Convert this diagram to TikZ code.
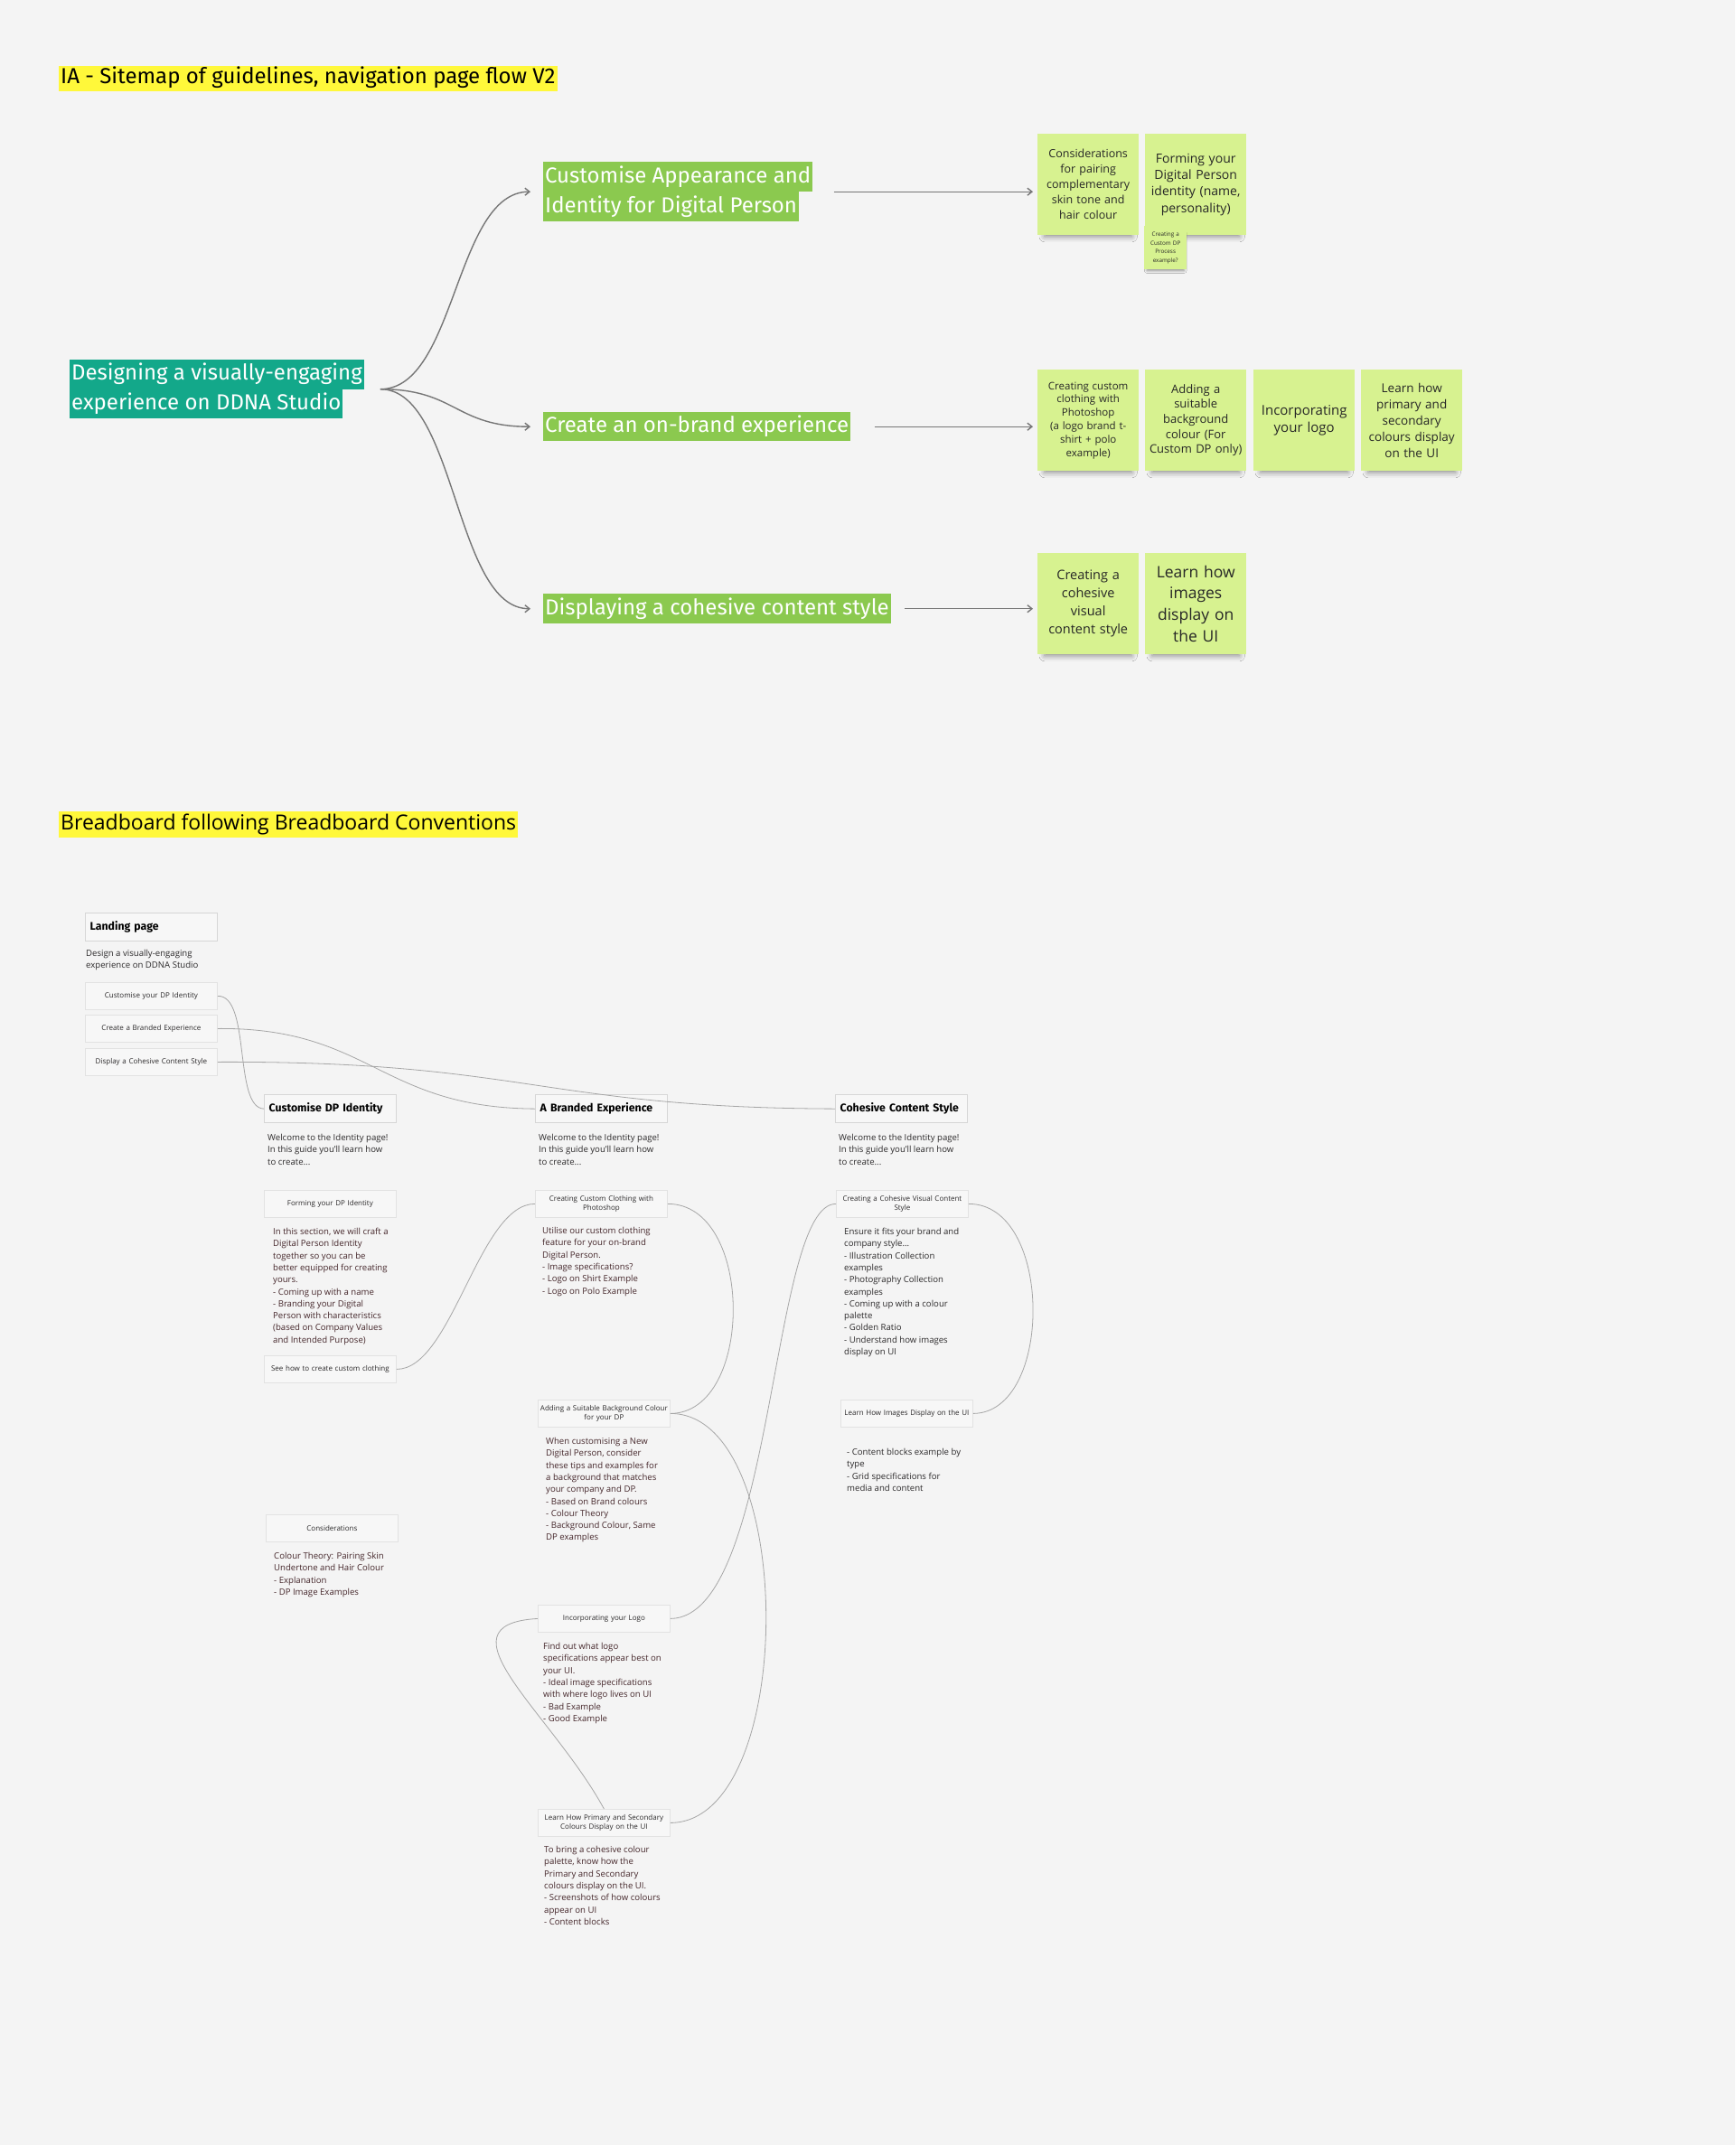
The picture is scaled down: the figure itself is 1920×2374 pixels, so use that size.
\documentclass[tikz,border=0pt]{standalone}
\usepackage{fontspec}
\setmainfont{Open Sans}
\newfontfamily\plexlike{Fira Sans}
\usetikzlibrary{arrows.meta,shadows.blur}

\definecolor{bgpaper}{HTML}{F4F4F4}
\definecolor{hiyellow}{HTML}{FFF83A}
\definecolor{rootteal}{HTML}{13A88A}
\definecolor{branchgreen}{HTML}{8BC94F}
\definecolor{stickygreen}{HTML}{D7F290}
\definecolor{wiregray}{HTML}{767676}
\definecolor{bbline}{HTML}{D6D6D6}
\definecolor{bbfill}{HTML}{F7F7F7}
\definecolor{bbink}{HTML}{2C2A2B}
\definecolor{paraink}{HTML}{45272B}

% highlighted line of text (Miro style marker)
\newcommand\hlline[2]{{\setlength\fboxsep{0pt}\colorbox{#1}{\strut\hspace{2pt}#2\hspace{2pt}}}}

\tikzset{
	wire/.style={draw=wiregray, line width=1.4pt, -{Straight Barb[length=5pt,width=8pt]}},
	hilite/.style={anchor=north west, align=left, inner sep=0pt},
	stickybase/.style={fill=stickygreen, anchor=north west, align=center, inner sep=0pt, text=black!85},
	sticky/.style={stickybase, minimum width=112pt, minimum height=112pt, text width=106pt,
			blur shadow={shadow xshift=0pt, shadow yshift=-11pt, shadow scale=0.86, shadow opacity=45, shadow blur radius=7pt}},
	stickysmall/.style={stickybase, minimum width=47pt, minimum height=48pt, text width=44pt,
			blur shadow={shadow xshift=0pt, shadow yshift=-5pt, shadow scale=0.88, shadow opacity=40, shadow blur radius=3pt}},
	bbhead/.style={draw=bbline, line width=1.3pt, fill=bbfill, anchor=north west, minimum width=146pt,
			minimum height=31pt, inner xsep=5pt, text width=136pt, text=black,
			font=\plexlike\bfseries\fontsize{12.3}{15}\selectfont},
	bbbtn/.style={draw=bbline!70, line width=0.8pt, fill=bbfill, anchor=north west, minimum width=146pt,
			minimum height=30pt, text width=142pt, align=center, inner sep=2pt, text=bbink,
			font=\fontsize{8}{10.5}\selectfont},
	bbtext/.style={anchor=north west, align=left, inner sep=0pt, text=bbink,
			font=\fontsize{9.6}{13.3}\selectfont},
	bbpara/.style={bbtext, text=paraink},
	bbwire/.style={draw=gray!70, line width=0.8pt}
}

\begin{document}
\begin{tikzpicture}[x=1pt, y=-1pt]
	\useasboundingbox (0,0) rectangle (1920,2374);
	\fill[bgpaper] (0,0) rectangle (1920,2374);

	% sitemap
	\node[hilite, font=\plexlike\fontsize{24}{28}\selectfont] (ttlmap) at (65,73)
		{\hlline{hiyellow}{IA - Sitemap of guidelines, navigation page flow V2}};
	\node[hilite, text=white, font=\plexlike\fontsize{24}{32.5}\selectfont] (root) at (77,398)
		{\hlline{rootteal}{Designing a visually-engaging}\\\hlline{rootteal}{experience on DDNA Studio}};
	\node[hilite, text=white, font=\plexlike\fontsize{24}{33}\selectfont] (cust) at (601,179)
		{\hlline{branchgreen}{Customise Appearance and}\\\hlline{branchgreen}{Identity for Digital Person}};
	\node[hilite, text=white, font=\plexlike\fontsize{24}{32}\selectfont] (brand) at (601,456)
		{\hlline{branchgreen}{Create an on-brand experience}};
	\node[hilite, text=white, font=\plexlike\fontsize{24}{33}\selectfont] (cohes) at (601,657)
		{\hlline{branchgreen}{Displaying a cohesive content style}};

	\node[sticky, font=\fontsize{12.5}{17}\selectfont] (stConsider) at (1148,148)
		{Considerations\\for pairing\\complementary\\skin tone and\\hair colour};
	\node[sticky, font=\fontsize{14}{18.3}\selectfont] (stForming) at (1267,148)
		{Forming your\\Digital Person\\identity (name,\\personality)\\[14pt]};
	\node[stickysmall, font=\fontsize{6.3}{9.5}\selectfont] (stProcess) at (1266,250)
		{Creating a\\Custom DP\\Process\\example?};
	\node[sticky, font=\fontsize{11.5}{14.8}\selectfont] (stClothing) at (1148,409)
		{Creating custom\\clothing with\\Photoshop\\(a logo brand t-\\shirt + polo\\example)};
	\node[sticky, font=\fontsize{13}{16.6}\selectfont] (stBackground) at (1267,409)
		{Adding a\\suitable\\background\\colour (For\\Custom DP only)};
	\node[sticky, font=\fontsize{15}{19.7}\selectfont] (stLogo) at (1387,409)
		{Incorporating\\your logo\\[8pt]};
	\node[sticky, font=\fontsize{13.5}{18}\selectfont] (stPalette) at (1506,409)
		{Learn how\\primary and\\secondary\\colours display\\on the UI};
	\node[sticky, font=\fontsize{14.5}{20}\selectfont] (stVisual) at (1148,612)
		{Creating a\\cohesive\\visual\\content style};
	\node[sticky, font=\fontsize{17.5}{23.6}\selectfont] (stImages) at (1267,612)
		{Learn how\\images\\display on\\the UI};

	\draw[wire] ([xshift=18pt]root.east) .. controls +(84,0) and +(-84,0) .. ([xshift=-14pt]cust.west);
	\draw[wire] ([xshift=18pt]root.east) .. controls +(84,0) and +(-84,0) .. ([xshift=-14pt]brand.west);
	\draw[wire] ([xshift=18pt]root.east) .. controls +(84,0) and +(-84,0) .. ([xshift=-14pt]cohes.west);
	\draw[wire] ([xshift=23pt]cust.east) -- ([xshift=-5pt]cust.east -| stConsider.west);
	\draw[wire] ([xshift=26pt]brand.east) -- ([xshift=-5pt]brand.east -| stClothing.west);
	\draw[wire] ([xshift=15pt]cohes.east) -- ([xshift=-5pt]cohes.east -| stVisual.west);

	% breadboard
	\node[hilite, font=\fontsize{23}{29}\selectfont] (ttlboard) at (65,898)
		{\hlline{hiyellow}{Breadboard following Breadboard Conventions}};

	\node[bbhead] (landing) at (94,1010) {Landing page};
	\node[bbtext] (landtxt) at (95,1051) {Design a visually-engaging\\experience on DDNA Studio};
	\node[bbbtn] (btnIdentity) at (94,1087) {Customise your DP Identity};
	\node[bbbtn] (btnBranded) at (94,1123) {Create a Branded Experience};
	\node[bbbtn] (btnCohesive) at (94,1160) {Display a Cohesive Content Style};

	\node[bbhead] (hdIdentity) at (292,1211) {Customise DP Identity};
	\node[bbhead] (hdBranded) at (592,1211) {A Branded Experience};
	\node[bbhead] (hdCohesive) at (924,1211) {Cohesive Content Style};
	\foreach \x/\n in {296/1,596/2,928/3}
		\node[bbtext] (welcome\n) at (\x,1255) {Welcome to the Identity page!\\In this guide you'll learn how\\to create...};

	\node[bbbtn] (bxForming) at (292,1317) {Forming your DP Identity};
	\node[bbpara] (txForming) at (302,1359) {In this section, we will craft a\\Digital Person Identity\\together so you can be\\better equipped for creating\\yours.\\- Coming up with a name\\- Branding your Digital\\Person with characteristics\\(based on Company Values\\and Intended Purpose)};
	\node[bbbtn] (bxSeeHow) at (292,1500) {See how to create custom clothing};
	\node[bbbtn] (bxConsider) at (294,1676) {Considerations};
	\node[bbpara] (txConsider) at (303,1718) {Colour Theory: Pairing Skin\\Undertone and Hair Colour\\- Explanation\\- DP Image Examples};

	\node[bbbtn] (bxClothing) at (592,1317) {Creating Custom Clothing with\\Photoshop};
	\node[bbpara] (txClothing) at (600,1358) {Utilise our custom clothing\\feature for your on-brand\\Digital Person.\\- Image specifications?\\- Logo on Shirt Example\\- Logo on Polo Example};
	\node[bbbtn] (bxBackground) at (595,1549) {Adding a Suitable Background Colour\\for your DP};
	\node[bbpara] (txBackground) at (604,1591) {When customising a New\\Digital Person, consider\\these tips and examples for\\a background that matches\\your company and DP.\\- Based on Brand colours\\- Colour Theory\\- Background Colour, Same\\DP examples};
	\node[bbbtn] (bxLogo) at (595,1776) {Incorporating your Logo};
	\node[bbpara] (txLogo) at (601,1818) {Find out what logo\\specifications appear best on\\your UI.\\- Ideal image specifications\\with where logo lives on UI\\- Bad Example\\- Good Example};
	\node[bbbtn] (bxPalette) at (595,2002) {Learn How Primary and Secondary\\Colours Display on the UI};
	\node[bbpara] (txPalette) at (602,2043) {To bring a cohesive colour\\palette, know how the\\Primary and Secondary\\colours display on the UI.\\- Screenshots of how colours\\appear on UI\\- Content blocks};

	\node[bbbtn] (bxVisual) at (925,1317) {Creating a Cohesive Visual Content\\Style};
	\node[bbtext] (txVisual) at (934,1359) {Ensure it fits your brand and\\company style...\\- Illustration Collection\\examples\\- Photography Collection\\examples\\- Coming up with a colour\\palette\\- Golden Ratio\\- Understand how images\\display on UI};
	\node[bbbtn] (bxImages) at (930,1549) {Learn How Images Display on the UI};
	\node[bbtext] (txImages) at (937,1603) {- Content blocks example by\\type\\- Grid specifications for\\media and content};

	\draw[bbwire] (btnIdentity.east) .. controls (278,1101) and (258,1226) .. (hdIdentity.west);
	\draw[bbwire] (btnBranded.east) .. controls (410,1137) and (420,1226) .. (hdBranded.west);
	\draw[bbwire] (btnCohesive.east) .. controls (580,1174) and (600,1226) .. (hdCohesive.west);
	\draw[bbwire] (bxSeeHow.east) .. controls (500,1516) and (530,1332) .. (bxClothing.west);
	\draw[bbwire] (bxClothing.east) .. controls (835,1332) and (835,1564) .. (bxBackground.east);
	\draw[bbwire] (bxBackground.east) .. controls (883,1564) and (883,2017) .. (bxPalette.east);
	\draw[bbwire] (bxVisual.west) .. controls (852,1332) and (858,1791) .. (bxLogo.east);
	\draw[bbwire] (bxLogo.west) .. controls (480,1798) and (610,1895) .. (bxPalette.north);
	\draw[bbwire] (bxVisual.east) .. controls (1166,1332) and (1166,1564) .. (bxImages.east);
\end{tikzpicture}
\end{document}
